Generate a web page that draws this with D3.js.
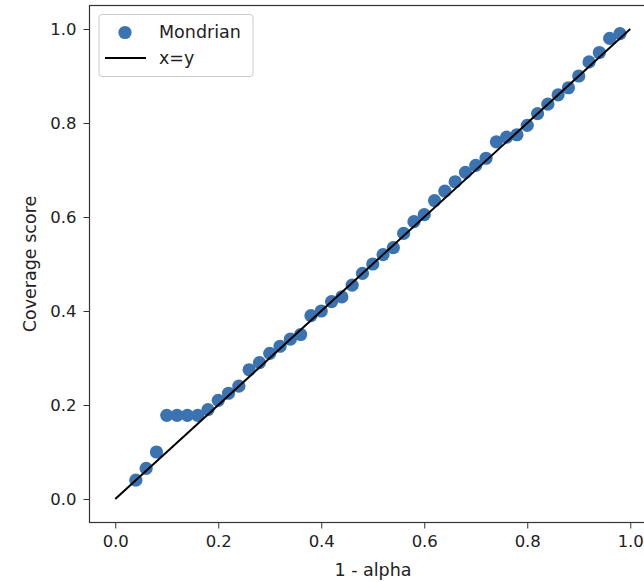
<!DOCTYPE html>
<html>
<head>
<meta charset="utf-8">
<script src="https://cdn.jsdelivr.net/npm/d3@7"></script>
<style>
  body { margin: 0; background: #fff; }
  svg { font-family: "DejaVu Sans", sans-serif; }
</style>
</head>
<body>
<div id="chart"></div>
<script>
// 1 - alpha values and the coverage
var alphaLevels = [0.04, 0.06, 0.08, 0.10, 0.12, 0.14, 0.16, 0.18, 0.20, 0.22,
                   0.24, 0.26, 0.28, 0.30, 0.32, 0.34, 0.36, 0.38, 0.40, 0.42,
                   0.44, 0.46, 0.48, 0.50, 0.52, 0.54, 0.56, 0.58, 0.60, 0.62,
                   0.64, 0.66, 0.68, 0.70, 0.72, 0.74, 0.76, 0.78, 0.80, 0.82,
                   0.84, 0.86, 0.88, 0.90, 0.92, 0.94, 0.96, 0.98];
var coverage = [0.04, 0.065, 0.10, 0.178, 0.178, 0.178, 0.178, 0.19, 0.21, 0.225,
                0.24, 0.275, 0.29, 0.31, 0.325, 0.34, 0.35, 0.39, 0.40, 0.42,
                0.43, 0.455, 0.48, 0.50, 0.52, 0.535, 0.565, 0.59, 0.605, 0.635,
                0.655, 0.675, 0.695, 0.71, 0.725, 0.76, 0.77, 0.775, 0.795, 0.82,
                0.84, 0.86, 0.875, 0.90, 0.93, 0.95, 0.98, 0.99];
var diagonal = [0, 1];
var ticks = [0.0, 0.2, 0.4, 0.6, 0.8, 1.0];

var w = 644, h = 582;
var svg = d3.select("#chart").append("svg")
    .attr("width", w)
    .attr("height", h);

// axes box; the right side runs past the window like in the picture
var boxLeft = 89.5, boxRight = 656, boxTop = 5.5, boxBottom = 522.5;
var x = d3.scaleLinear().domain([-0.05, 1.05]).range([boxLeft, boxRight]);
var y = d3.scaleLinear().domain([-0.05, 1.05]).range([boxBottom, boxTop]);

var xAxis = svg.append("g")
    .attr("transform", "translate(0," + boxBottom + ")")
    .call(d3.axisBottom(x).tickValues(ticks).tickFormat(d3.format(".1f")).tickSize(6).tickPadding(7));
var yAxis = svg.append("g")
    .attr("transform", "translate(" + boxLeft + ",0)")
    .call(d3.axisLeft(y).tickValues(ticks).tickFormat(d3.format(".1f")).tickSize(6).tickPadding(7));
[xAxis, yAxis].forEach(function(g) {
    g.select(".domain").remove();
    g.selectAll("line").attr("stroke", "#333").attr("stroke-width", 1);
    g.selectAll("text").attr("font-size", "16.5px").attr("fill", "#222")
        .attr("font-family", "DejaVu Sans, sans-serif");
});

// frame
svg.append("rect")
    .attr("x", boxLeft).attr("y", boxTop)
    .attr("width", boxRight - boxLeft).attr("height", boxBottom - boxTop)
    .attr("fill", "none").attr("stroke", "#333").attr("stroke-width", 1.2);

// points
svg.append("g").selectAll("circle")
    .data(alphaLevels)
    .enter()
    .append("circle")
    .attr("cx", function(d) { return x(d); })
    .attr("cy", function(d, i) { return y(coverage[i]); })
    .attr("r", 6.6)
    .attr("fill", "#3b73b1");

// x=y
svg.append("line")
    .attr("x1", x(diagonal[0])).attr("y1", y(diagonal[0]))
    .attr("x2", x(diagonal[1])).attr("y2", y(diagonal[1]))
    .attr("stroke", "#000").attr("stroke-width", 2);

// labels
svg.append("text")
    .attr("x", 373).attr("y", 576)
    .attr("text-anchor", "middle")
    .attr("font-size", "17.5px").attr("fill", "#222")
    .text("1 - alpha");
svg.append("text")
    .attr("transform", "translate(36," + y(0.5) + ") rotate(-90)")
    .attr("text-anchor", "middle")
    .attr("font-size", "17.5px").attr("fill", "#222")
    .text("Coverage score");

// legend
var legend = svg.append("g");
legend.append("rect")
    .attr("x", 99).attr("y", 14.5).attr("width", 154).attr("height", 62)
    .attr("rx", 3).attr("fill", "#fff").attr("stroke", "#ccc");
legend.append("circle")
    .attr("cx", 125).attr("cy", 32.5).attr("r", 6.6).attr("fill", "#3b73b1");
legend.append("line")
    .attr("x1", 105).attr("x2", 146).attr("y1", 58).attr("y2", 58)
    .attr("stroke", "#000").attr("stroke-width", 2);
legend.append("text").attr("x", 159).attr("y", 38)
    .attr("font-size", "17.5px").attr("fill", "#222").text("Mondrian");
legend.append("text").attr("x", 159).attr("y", 64)
    .attr("font-size", "17.5px").attr("fill", "#222").text("x=y");
</script>
</body>
</html>
